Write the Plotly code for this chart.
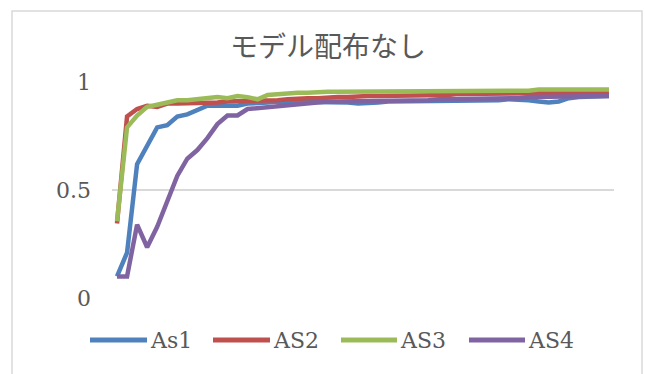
import plotly.graph_objects as go

# ---- data ----
categories = list(range(1, 51))
series_names = ["As1", "AS2", "AS3", "AS4"]
as1 = [0.10, 0.21, 0.62, 0.71, 0.79, 0.80, 0.84, 0.85, 0.87, 0.89,
       0.89, 0.89, 0.89, 0.90, 0.90, 0.905, 0.91, 0.91, 0.905, 0.905,
       0.905, 0.91, 0.905, 0.905, 0.90, 0.90, 0.905, 0.91, 0.91, 0.91,
       0.915, 0.915, 0.915, 0.915, 0.91, 0.91, 0.915, 0.915, 0.915, 0.92,
       0.92, 0.915, 0.91, 0.905, 0.91, 0.925, 0.93, 0.93, 0.935, 0.935]
as2 = [0.345, 0.84, 0.875, 0.89, 0.885, 0.90, 0.90, 0.90, 0.905, 0.905,
       0.905, 0.91, 0.91, 0.91, 0.915, 0.915, 0.915, 0.92, 0.925, 0.925,
       0.925, 0.93, 0.93, 0.93, 0.935, 0.935, 0.935, 0.935, 0.94, 0.94,
       0.94, 0.94, 0.94, 0.94, 0.945, 0.945, 0.945, 0.945, 0.945, 0.945,
       0.945, 0.95, 0.95, 0.95, 0.95, 0.95, 0.95, 0.95, 0.95, 0.95]
as3 = [0.355, 0.79, 0.845, 0.885, 0.895, 0.905, 0.915, 0.915, 0.92, 0.925,
       0.93, 0.925, 0.935, 0.93, 0.92, 0.94, 0.945, 0.945, 0.95, 0.95,
       0.955, 0.955, 0.955, 0.955, 0.955, 0.955, 0.955, 0.955, 0.96, 0.955,
       0.955, 0.955, 0.96, 0.96, 0.955, 0.955, 0.96, 0.96, 0.96, 0.96,
       0.96, 0.96, 0.965, 0.965, 0.965, 0.965, 0.965, 0.965, 0.965, 0.965]
as4 = [0.10, 0.10, 0.34, 0.235, 0.33, 0.45, 0.565, 0.645, 0.685, 0.74,
       0.805, 0.845, 0.845, 0.875, 0.88, 0.885, 0.89, 0.895, 0.90, 0.905,
       0.905, 0.91, 0.91, 0.91, 0.91, 0.915, 0.915, 0.915, 0.915, 0.915,
       0.915, 0.915, 0.92, 0.92, 0.92, 0.92, 0.92, 0.925, 0.925, 0.925,
       0.925, 0.93, 0.93, 0.93, 0.93, 0.93, 0.93, 0.935, 0.935, 0.935]
y_tick_vals = [0, 0.5, 1]
y_tick_text = ["0", "0.5", "1"]
title_text = "モデル配布なし"

colors = ["#4F81BD", "#C0504D", "#9BBB59", "#8064A2"]
all_series = [as1, as2, as3, as4]

W, H = 645, 374
L, R, T, B = 112, 31, 82, 76
pw, ph = W - L - R, H - T - B

def px2paper_x(px):
    return (px - L) / pw

def px2paper_y(py):
    return (H - B - py) / ph

fig = go.Figure()
for name, vals, col in zip(series_names, all_series, colors):
    fig.add_trace(go.Scatter(x=categories, y=vals, mode="lines", name=name,
                             line=dict(color=col, width=4.5), showlegend=False))

text_font = dict(family="DejaVu Serif", size=22, color="#595959")

shapes = [
    # chart border
    dict(type="rect", xref="paper", yref="paper",
         x0=px2paper_x(12), x1=px2paper_x(642), y0=px2paper_y(400), y1=px2paper_y(11),
         line=dict(color="#D9D9D9", width=1.5), fillcolor="rgba(0,0,0,0)", layer="below"),
]
annotations = []
legend_pos = [(90, 147), (213, 270), (341, 397), (469, 525)]
ly = px2paper_y(340)
for (x0, x1), name, col in zip(legend_pos, series_names, colors):
    shapes.append(dict(type="line", xref="paper", yref="paper",
                       x0=px2paper_x(x0), x1=px2paper_x(x1), y0=ly, y1=ly,
                       line=dict(color=col, width=5)))
    annotations.append(dict(text=name, xref="paper", yref="paper",
                            x=px2paper_x(x1 + 1), y=ly, xanchor="left", yanchor="middle",
                            showarrow=False, font=text_font))

fig.update_layout(
    width=W, height=H,
    margin=dict(l=L, r=R, t=T, b=B),
    paper_bgcolor="white", plot_bgcolor="white",
    title=dict(text=title_text, x=328 / W, y=1 - 47 / H, xanchor="center", yanchor="middle",
               xref="container", yref="container",
               font=dict(family="Noto Sans CJK JP", size=28, color="#595959")),
    xaxis=dict(range=[0.5, 50.5], showgrid=False, showticklabels=False, zeroline=False,
               showline=False, ticks=""),
    yaxis=dict(range=[0, 1], tickvals=y_tick_vals, ticktext=y_tick_text,
               showgrid=True, gridcolor="#D9D9D9", gridwidth=1.5, zeroline=False,
               showline=False, ticks="", ticklabelstandoff=20, tickfont=text_font),
    shapes=shapes, annotations=annotations,
)
fig.write_html("out.html")
